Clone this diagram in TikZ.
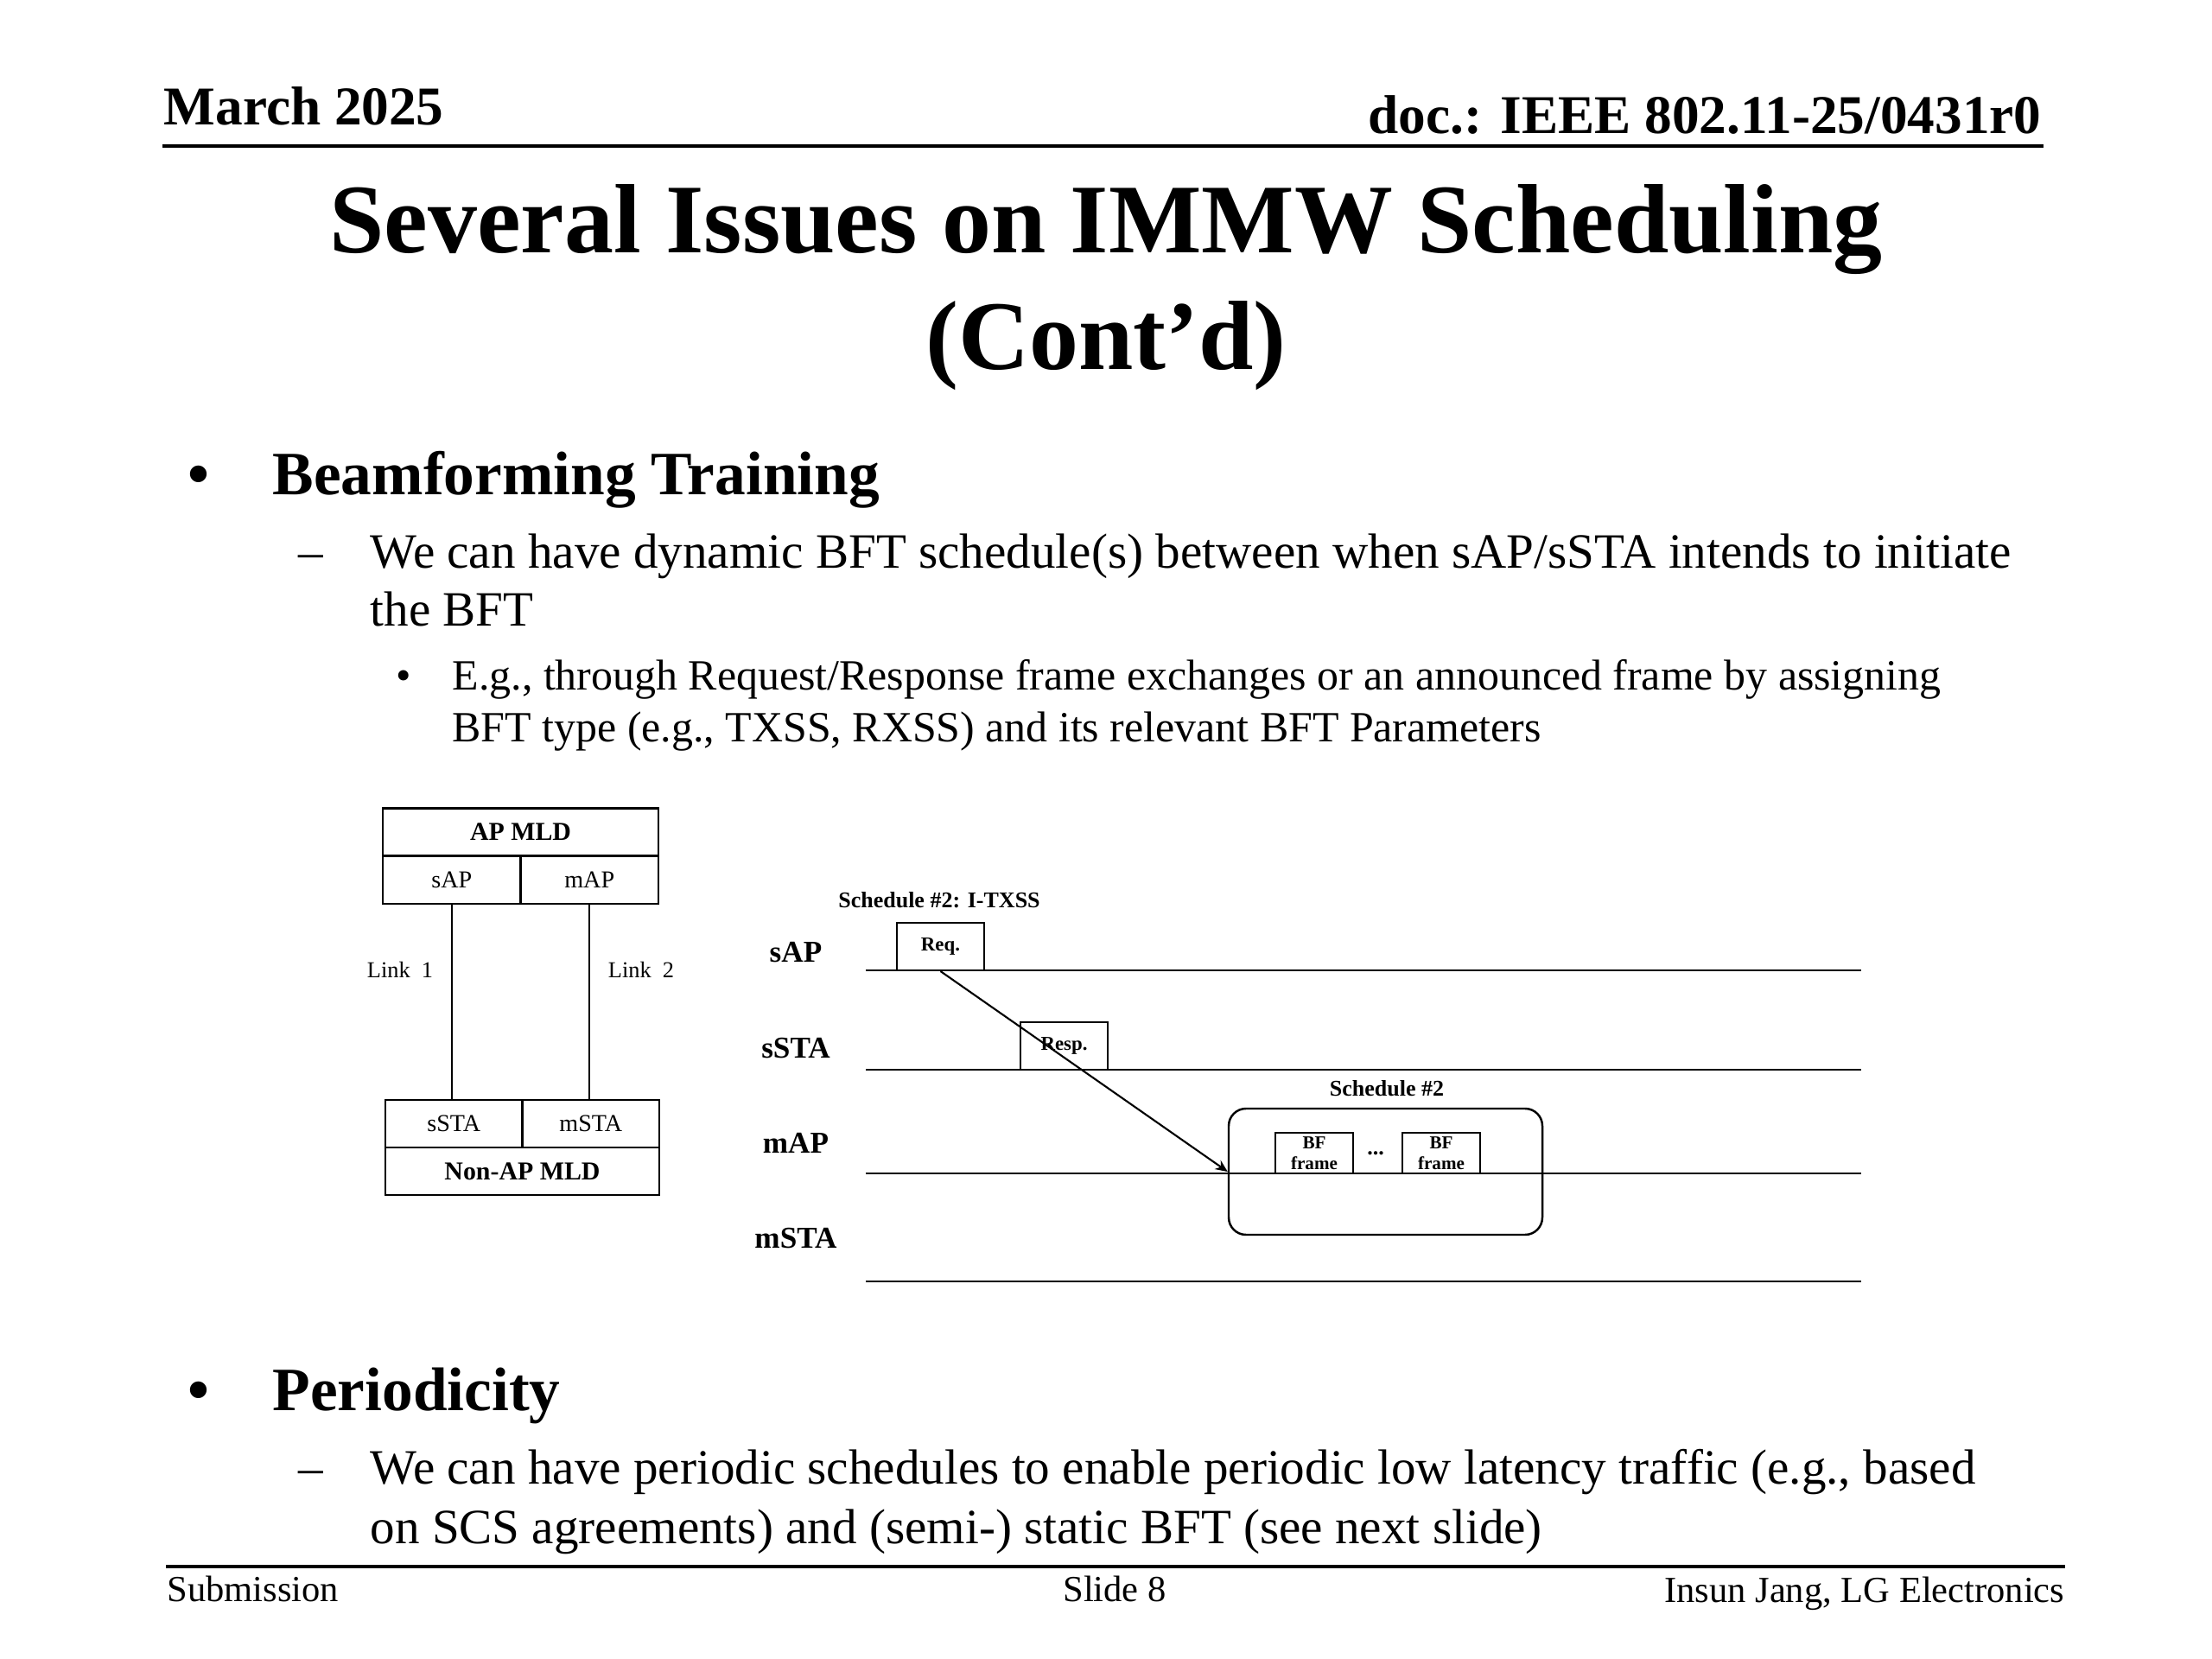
\documentclass[tikz,border=0pt]{standalone}
\usepackage{fontspec}
\setmainfont{Liberation Serif}
\usetikzlibrary{arrows.meta, positioning, calc}
\tikzset{
    hdr/.style={font=\fontsize{18}{21}\selectfont\bfseries, inner sep=0pt},
    ttl/.style={font=\fontsize{32.4}{38}\selectfont\bfseries, inner sep=0pt, anchor=base},
    lvlone/.style={font=\fontsize{20.3}{24}\selectfont\bfseries, inner sep=0pt, anchor=base west},
    lvltwo/.style={font=\fontsize{16.25}{19}\selectfont, inner sep=0pt, anchor=base west},
    lvlthree/.style={font=\fontsize{14.2}{17}\selectfont, inner sep=0pt, anchor=base west},
    foot/.style={font=\fontsize{12.1}{14}\selectfont, inner sep=0pt},
    rulebar/.style={line width=1pt},
    cell/.style={rectangle, draw, line width=0.6pt, minimum height=0.55cm,
                 inner sep=0pt, font=\fontsize{8}{9.6}\selectfont},
    cellhead/.style={cell, font=\fontsize{8.5}{10}\selectfont\bfseries},
    linklbl/.style={font=\fontsize{7.5}{9}\selectfont, inner sep=0pt},
    tlbl/.style={font=\fontsize{10}{12}\selectfont\bfseries, inner sep=0pt},
    tline/.style={line width=0.8pt},
    frm/.style={rectangle, draw, line width=0.6pt, minimum width=1.01cm, minimum height=0.55cm,
                inner sep=0pt, font=\fontsize{6.5}{7.5}\selectfont\bfseries},
    bfbox/.style={frm, minimum width=0.9cm, minimum height=0.47cm, align=center,
                  font=\fontsize{6}{6.8}\selectfont\bfseries},
    schedbox/.style={rectangle, draw, line width=0.7pt, rounded corners=0.2cm,
                     minimum width=3.63cm, minimum height=1.46cm},
    schedlbl/.style={font=\fontsize{7.4}{9}\selectfont\bfseries, inner sep=0pt},
    msgarrow/.style={-{Stealth[length=4pt, width=3.5pt]}, line width=0.6pt},
}

\begin{document}
\begin{tikzpicture}[x=1cm, y=-1cm]

    \useasboundingbox (0,0) rectangle (25.6,19.2);

    % Header
    \node[hdr, anchor=base west] (date) at (1.89,1.45) {March 2025};
    \node[hdr, anchor=base east] (docid) at (23.63,1.55) {doc.: IEEE 802.11-25/0431r0};
    \draw[rulebar] (1.88,1.69) -- (23.65,1.69);

    % Title
    \node[ttl] (title1) at (12.80,2.93) {Several Issues on IMMW Scheduling};
    \node[ttl] (title2) at (12.80,4.28) {(Cont’d)};

    % Beamforming Training
    \node[lvlone, anchor=base] (bul1) at (2.30,5.72) {•};
    \node[lvlone] (bft) at (3.15,5.72) {Beamforming Training};
    \node[lvltwo] (dash1) at (3.45,6.57) {–};
    \node[lvltwo] (bft1a) at (4.28,6.57) {We can have dynamic BFT schedule(s) between when sAP/sSTA intends to initiate};
    \node[lvltwo] (bft1b) at (4.28,7.25) {the BFT};
    \node[lvlthree, anchor=base] (bul2) at (4.67,7.98) {•};
    \node[lvlthree] (bft2a) at (5.23,7.98) {E.g., through Request/Response frame exchanges or an announced frame by assigning};
    \node[lvlthree] (bft2b) at (5.23,8.58) {BFT type (e.g., TXSS, RXSS) and its relevant BFT Parameters};

    % AP MLD / Non-AP MLD
    \node[cellhead, minimum width=3.19cm] (apmld) at (6.025,9.63) {AP MLD};
    \node[cell, minimum width=1.595cm] (sap) at (5.2275,10.185) {sAP};
    \node[cell, minimum width=1.595cm] (map) at (6.8225,10.185) {mAP};
    \node[cell, minimum width=1.585cm] (ssta) at (5.2525,13.005) {sSTA};
    \node[cell, minimum width=1.585cm] (msta) at (6.8375,13.005) {mSTA};
    \node[cellhead, minimum width=3.17cm] (nonap) at (6.045,13.555) {Non-AP MLD};

    \draw[line width=0.6pt] (sap.south) -- (sap.south |- ssta.north);
    \draw[line width=0.6pt] (map.south) -- (map.south |- msta.north);
    \node[linklbl] (link1) at (4.63,11.22) {Link~~1};
    \node[linklbl] (link2) at (7.42,11.22) {Link~~2};

    % Schedule #2 timing
    \node[schedlbl] (schedttl) at (10.87,10.42) {Schedule \#2: I-TXSS};
    \foreach \nm/\txt/\y in {lsap/sAP/11.02, lssta/sSTA/12.13, lmap/mAP/13.23, lmsta/mSTA/14.33}
        \node[tlbl] (\nm) at (9.21,\y) {\txt};
    \foreach \y in {11.23, 12.38, 13.58, 14.83}
        \draw[tline] (10.02,\y) -- (21.54,\y);

    \node[frm] (req) at (10.885,10.955) {Req.};
    \node[frm] (resp) at (12.315,12.105) {Resp.};

    \node[schedbox] (sched) at (16.035,13.56) {};
    \node[schedlbl] (schedname) at (16.05,12.60) {Schedule \#2};
    \node[bfbox] (bf1) at (15.21,13.345) {BF\\frame};
    \node[bfbox] (bf2) at (16.68,13.345) {BF\\frame};
    \node[schedlbl] (dots) at (15.92,13.35) {...};

    \draw[msgarrow] (req.south) -- (sched.west);

    % Periodicity
    \node[lvlone, anchor=base] (bul3) at (2.30,16.32) {•};
    \node[lvlone] (per) at (3.15,16.32) {Periodicity};
    \node[lvltwo] (dash2) at (3.45,17.17) {–};
    \node[lvltwo] (per1a) at (4.28,17.17) {We can have periodic schedules to enable periodic low latency traffic (e.g., based};
    \node[lvltwo] (per1b) at (4.28,17.86) {on SCS agreements) and (semi-) static BFT (see next slide)};

    % Footer
    \draw[rulebar] (1.92,18.13) -- (23.90,18.13);
    \node[foot, anchor=base west] (sub) at (1.93,18.53) {Submission};
    \node[foot, anchor=base] (slide) at (12.90,18.53) {Slide 8};
    \node[foot, anchor=base east] (author) at (23.90,18.54) {Insun Jang, LG Electronics};

\end{tikzpicture}
\end{document}
